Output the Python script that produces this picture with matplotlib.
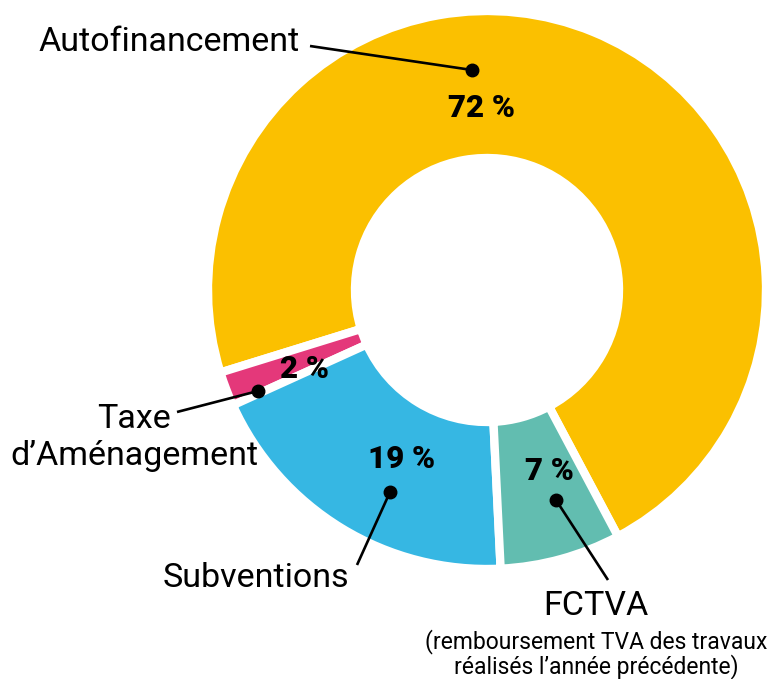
import matplotlib
matplotlib.use('Agg')
import matplotlib.pyplot as plt

# Donnees
categories = ['Autofinancement', 'Taxe\nd\u2019Aménagement', 'Subventions', 'FCTVA']
parts = [72, 2, 19, 7]
pct_labels = ['72 %', '2 %', '19 %', '7 %']
couleurs = ['#FBC000', '#E4387A', '#36B7E3', '#62BDB0']
sous_titre = '(remboursement TVA des travaux\nréalisés l\u2019année précédente)'

police = ['Roboto', 'DejaVu Sans']

fig = plt.figure(figsize=(7.71, 6.79), dpi=100)
ax = fig.add_axes([0, 0, 1, 1])

# Camembert en anneau (coordonnees en pixels, y vers le bas)
centre = (487, 290)
rayon = 279
wedges, _ = ax.pie(parts, colors=couleurs, startangle=62, counterclock=False,
                   center=centre, radius=rayon,
                   wedgeprops=dict(width=147, edgecolor='white', linewidth=6))

ax.set_xlim(0, 771)
ax.set_ylim(679, 0)
ax.set_aspect('equal')
ax.axis('off')

# Pourcentages
pct_pos = [(482, 117), (304, 378), (402, 468), (549, 480)]
for txt, (x, y) in zip(pct_labels, pct_pos):
    ax.text(x, y, txt, ha='center', va='baseline', fontsize=22.5,
            fontweight='heavy', family=police, color='black')

# Reperes (point + trait)
points = [(472, 70), (258, 391), (390, 492), (556, 500)]
bouts = [(310, 46), (177, 412), (357, 565), (608, 580)]
for (x0, y0), (x1, y1) in zip(points, bouts):
    ax.plot([x0, x1], [y0, y1], color='black', linewidth=1.9, solid_capstyle='butt')
    ax.plot(x0, y0, 'o', color='black', markersize=9)

# Libelles (une ligne a la fois)
def ecrire(x, y, texte, taille, ha='center'):
    for i, ligne in enumerate(texte.split('\n')):
        ax.text(x, y + i * taille * 1.53, ligne, ha=ha, va='baseline',
                fontsize=taille, family=police, fontweight='normal')

ecrire(300, 51, categories[0], 24.5, ha='right')
ecrire(134, 428, categories[1], 24.5)
ecrire(256, 587, categories[2], 24.5)
ecrire(596, 615, categories[3], 24.5)
ecrire(596, 648, sous_titre, 16.5)

fig.savefig('out.png', dpi=100, facecolor='white')
